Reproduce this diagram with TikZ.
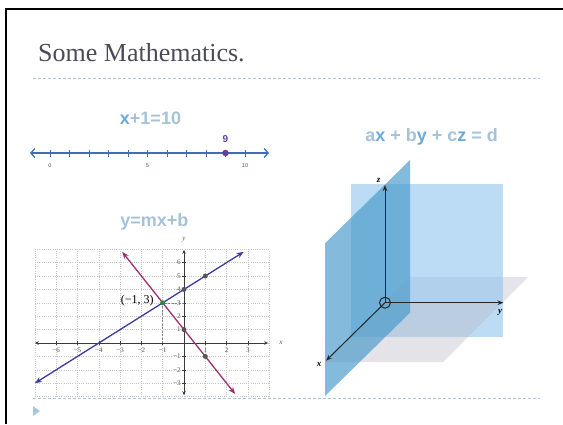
\documentclass[tikz,border=0pt]{standalone}
\usepackage{fontspec}
\setmainfont{Liberation Serif}
\newfontfamily\hsans{Liberation Sans}
\usetikzlibrary{arrows.meta}
\definecolor{titlegray}{HTML}{4B4B58}
\definecolor{dashblue}{HTML}{A9C8E0}
\definecolor{headlight}{HTML}{A6C2D8}
\definecolor{headdark}{HTML}{6AAAD6}
\definecolor{nlblue}{HTML}{3C6FB6}
\definecolor{ptpurple}{HTML}{6A3D9A}
\definecolor{nllab}{HTML}{6B4A3A}
\definecolor{linblue}{HTML}{3B3BA0}
\definecolor{linpurple}{HTML}{9C2F70}
\definecolor{gridgray}{HTML}{C4C4C4}
\definecolor{axisgray}{HTML}{3A3A3A}
\definecolor{dotgray}{HTML}{555555}
\definecolor{dotgreen}{HTML}{2E8B3E}
\definecolor{rectblue}{HTML}{8FC3EC}
\definecolor{obliqueblue}{HTML}{4A9ACA}
\definecolor{planegray}{HTML}{E4E4EA}
\definecolor{frontgray}{HTML}{B9B9C3}
\tikzset{
  heading/.style={font=\hsans\bfseries\fontsize{18}{18}\selectfont, text=headlight, inner sep=0},
  ticklab/.style={font=\fontsize{7}{7}\selectfont, text=dotgray, inner sep=1pt},
  nllabel/.style={font=\hsans\fontsize{5.5}{5.5}\selectfont, text=nllab, inner sep=0},
  gdot/.style={circle, fill=dotgray, minimum size=5pt, inner sep=0},
  arrowline/.style={line width=1.3pt, {Stealth[length=7pt,width=5.5pt]}-{Stealth[length=7pt,width=5.5pt]}},
  axis3d/.style={line width=1pt, draw=black!85, -{Stealth[length=6pt,width=4.5pt]}},
  axlab/.style={font=\itshape\bfseries\fontsize{9}{9}\selectfont, inner sep=0},
  rule/.style={dashblue, line width=0.8pt, dash pattern=on 3pt off 2pt}
}
\begin{document}
\begin{tikzpicture}[x=1pt,y=-1pt]
\useasboundingbox (0,0) rectangle (563,424);
% frame
\draw[line width=2pt] (6,424) -- (6,9) -- (563,9);
% title
\node[anchor=base west, font=\fontsize{26}{26}\selectfont, text=titlegray, inner sep=0] (title) at (38,61) {Some Mathematics.};
\draw[rule] (33,78) -- (540,78);
\draw[rule] (33,398) -- (540,398);
\fill[dashblue] (33,406) -- (40,411) -- (33,416) -- cycle;

% ---------- number line ----------
\node[heading] (h1) at (150.5,118.3) {\textcolor{headdark}{x}+1=10};
\coordinate (nlL) at (30,153);
\coordinate (nlR) at (269,153);
\draw[nlblue, line width=1.1pt, {Straight Barb[length=4pt,width=9pt,line width=1.3pt]}-{Straight Barb[length=4pt,width=9pt,line width=1.3pt]}] (nlL) -- (nlR);
\foreach \i in {0,...,10} \draw[nlblue, line width=0.9pt] (50+19.5*\i,149.5) -- (50+19.5*\i,156.5);
\node[nllabel] (n0) at (50,166) {0};
\node[nllabel] (n5) at (147.5,166) {5};
\node[nllabel] (n10) at (245,166) {10};
\node[circle, fill=ptpurple, minimum size=6.5pt, inner sep=0] (p9) at (225.5,153) {};
\node[font=\hsans\bfseries\fontsize{10}{10}\selectfont, text=ptpurple, inner sep=0] (l9) at (225.5,139) {9};

% ---------- y = mx + b ----------
\node[heading] (h2) at (154.3,221.7) {y=mx+b};
\begin{scope}[shift={(184,343)}, x={(21.3pt,0pt)}, y={(0pt,13.4pt)}]
  \draw[gridgray, line width=0.5pt, dash pattern=on 0.6pt off 1.6pt, xstep=1, ystep=1] (-7,-4) grid (4,7);
  \coordinate (xaL) at (-7,0);
  \coordinate (xaR) at (3.95,0);
  \coordinate (yaB) at (0,-3.9);
  \coordinate (yaT) at (0,6.95);
  \draw[axisgray, line width=0.9pt, {Stealth[length=4pt,width=3.5pt]}-{Stealth[length=4pt,width=3.5pt]}] (xaL) -- (xaR);
  \draw[axisgray, line width=0.9pt, {Stealth[length=4pt,width=3.5pt]}-{Stealth[length=4pt,width=3.5pt]}] (yaB) -- (yaT);
  \foreach \x in {-6,...,-1,1,2,3} {
    \draw[axisgray, line width=0.5pt] (\x,0) ++(0pt,-2pt) -- ++(0pt,4pt);
    \node[ticklab, anchor=north] at (\x,-0.25) {\ifnum\x<0 −\the\numexpr-\x\relax\else\x\fi};
  }
  \foreach \y in {-3,...,-1,1,2,...,6} {
    \draw[axisgray, line width=0.5pt] (0,\y) ++(-2pt,0pt) -- ++(4pt,0pt);
    \node[ticklab, anchor=east] at (-0.1,\y) {\ifnum\y<0 −\the\numexpr-\y\relax\else\y\fi};
  }
  \node[ticklab, font=\itshape\fontsize{7}{7}\selectfont] (xl) at (4.55,0) {x};
  \node[ticklab, font=\itshape\fontsize{7}{7}\selectfont] (yl) at (0,7.7) {y};
  % guides
  \coordinate (gx) at (-1,0);
  \coordinate (gy) at (0,3);
  \draw[gray, line width=0.5pt, dash pattern=on 2pt off 1.5pt] (gx) -- (-1,3) -- (gy);
  % lines
  \coordinate (bA) at (-7,-3);
  \coordinate (bB) at (2.8,6.8);
  \coordinate (pA) at (-2.9,6.8);
  \coordinate (pB) at (2.4,-3.8);
  \draw[linblue, arrowline] (bA) -- (bB);
  \draw[linpurple, arrowline] (pA) -- (pB);
  \node[gdot] (d1) at (0,4) {};
  \node[gdot] (d2) at (1,5) {};
  \node[gdot] (d3) at (0,1) {};
  \node[gdot] (d4) at (1,-1) {};
  \node[circle, fill=dotgreen, minimum size=5pt, inner sep=0] (g) at (-1,3) {};
  \node[anchor=east, font=\fontsize{12}{12}\selectfont, inner sep=0] (gl) at (-1.42,3.16) {(−1, 3)};
\end{scope}

% ---------- 3D planes ----------
\node[heading] (h3) at (431.7,136.7) {a\textcolor{headdark}{x} + b\textcolor{headdark}{y} + c\textcolor{headdark}{z} = d};
% gray plane behind
\fill[planegray] (410,277) -- (528,277) -- (502.3,302.7) -- (384.3,302.7) -- cycle;
% y-z rectangle
\fill[rectblue, opacity=0.6] (350.7,184) rectangle (503.3,337.3);
% gray plane in front
\fill[frontgray, opacity=0.38] (384.3,302.7) -- (502.3,302.7) -- (443,362) -- (325,362) -- cycle;
% oblique x-z plane
\fill[obliqueblue, opacity=0.68] (325,243.3) -- (410,160) -- (410,312.7) -- (325,396) -- cycle;
% axes
\node[circle, draw=black!85, line width=1pt, minimum size=11pt, inner sep=0] (O) at (385,302.7) {};
\coordinate (zE) at (385,185);
\coordinate (yE) at (503.5,302.7);
\coordinate (xE) at (326,360.7);
\draw[axis3d] (O.center) -- (zE);
\draw[axis3d] (O.center) -- (yE);
\draw[axis3d] (O.center) -- (xE);
\node[axlab] (zl) at (378.5,180) {z};
\node[axlab] (yl3) at (500,312) {y};
\node[axlab] (xl3) at (319,364) {x};
\end{tikzpicture}
\end{document}
